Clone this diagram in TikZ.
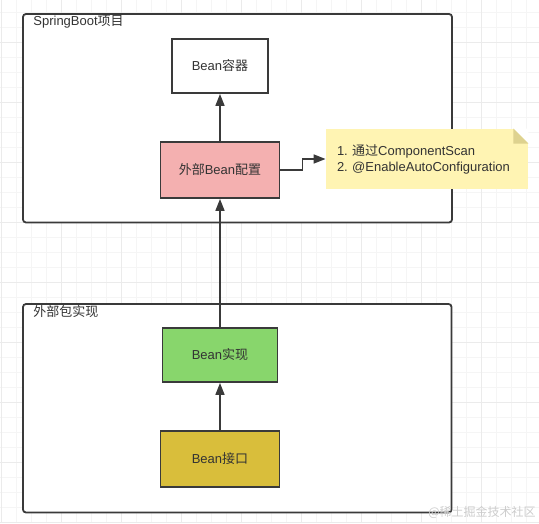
\documentclass[tikz,border=0pt]{standalone}
\usepackage{fontspec}
\setmainfont{Liberation Sans}
\newfontfamily\cjk{Noto Sans CJK SC}
\newcommand{\zhtext}[1]{{\cjk #1}}
\frenchspacing
\usepackage{tikz}
\usetikzlibrary{positioning, arrows.meta}
\definecolor{linegray}{HTML}{3A3A3A}
\definecolor{textgray}{HTML}{333333}
\definecolor{gridminor}{HTML}{F5F5F5}
\definecolor{gridmajor}{HTML}{EBEBEB}
\definecolor{cfgfill}{HTML}{F4B0B0}
\definecolor{implfill}{HTML}{88D66C}
\definecolor{ifacefill}{HTML}{D9BE3B}
\definecolor{notefill}{HTML}{FFF4B3}
\definecolor{notefold}{HTML}{DED28F}
\tikzset{>={Triangle[width=4.5pt,length=6pt]}}
\tikzset{
	box/.style={draw=linegray, line width=0.9pt, inner sep=0pt, text=textgray, font=\fontsize{6.5pt}{8pt}\selectfont},
	frame/.style={draw=linegray, line width=0.9pt, fill=white, rounded corners=1.5pt},
	framelabel/.style={anchor=west, inner sep=0pt, text=textgray, font=\fontsize{6.5pt}{8pt}\selectfont},
	link/.style={->, draw=linegray, line width=0.8pt}
}

\begin{document}
\begin{tikzpicture}[x=0.5pt, y=-0.5pt]
		\useasboundingbox (0,0) rectangle (539,523);

		% background grid
		\foreach \i in {0,...,35} \draw[gridminor, line width=0.4pt] ({1.7+15*\i},0) -- ({1.7+15*\i},523);
		\foreach \j in {-1,...,34} \draw[gridminor, line width=0.4pt] (0,{12.7+15*\j}) -- (539,{12.7+15*\j});
		\foreach \i in {0,...,8} \draw[gridmajor, line width=0.5pt] ({1.7+60*\i},0) -- ({1.7+60*\i},523);
		\foreach \j in {-1,...,8} \draw[gridmajor, line width=0.5pt] (0,{42.7+60*\j}) -- (539,{42.7+60*\j});

		% frames
		\draw[frame] (23,14) rectangle (452,222.5);
		\draw[frame] (23,304) rectangle (451.5,512.5);
		\node[framelabel] (springlbl) at (33,22) {SpringBoot\zhtext{项目}};
		\node[framelabel] (pkglbl) at (33,312) {\zhtext{外部包实现}};

		\begin{scope}[every node/.append style={box}]
			\node[minimum width=48pt, minimum height=27pt, fill=white] (container) at (220,66) {Bean\zhtext{容器}};
			\node[minimum width=59.5pt, minimum height=28pt, fill=cfgfill] (cfg) at (220,170) {\zhtext{外部}Bean\zhtext{配置}};
			\node[minimum width=57.5pt, minimum height=27pt, fill=implfill] (impl) at (220,355) {Bean\zhtext{实现}};
			\node[minimum width=59.5pt, minimum height=28pt, fill=ifacefill] (iface) at (220,459) {Bean\zhtext{接口}};
		\end{scope}

		% note with folded corner
		\node[fill=notefill, minimum width=101pt, minimum height=30pt, text width=90pt, inner xsep=5.5pt, inner ysep=0pt, align=left, text=textgray, font=\fontsize{6.5pt}{8pt}\selectfont] (note) at (427,159) {1. \zhtext{通过}ComponentScan\\2. @EnableAutoConfiguration};
		\fill[white] (note.north east) ++(-15,0) -- (note.north east) -- ++(0,15) -- cycle;
		\fill[notefold] (note.north east) ++(-15,0) -- ++(0,15) -- ++(15,0) -- cycle;

		\draw[link] (iface) -- (impl);
		\draw[link] (impl) -- (cfg);
		\draw[link] (cfg) -- (container);
		\draw[link] (cfg.east) -- ++(22,0) |- (note.west);

		\node[inner sep=0pt, text=gray!40, font=\cjk\fontsize{6pt}{7pt}\selectfont] (mark) at (482,512) {@稀土掘金技术社区};
	\end{tikzpicture}
\end{document}
